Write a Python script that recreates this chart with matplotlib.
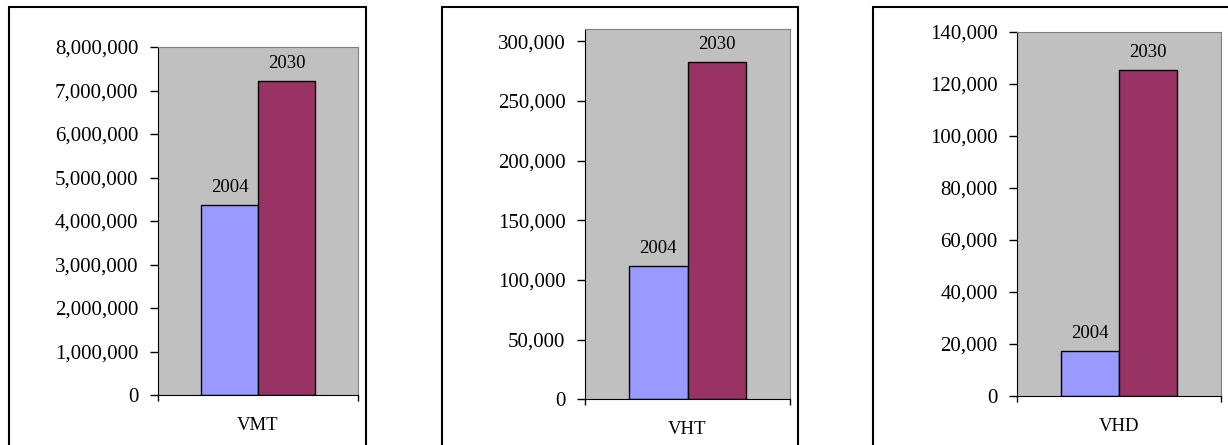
import matplotlib
matplotlib.use("Agg")
import matplotlib.pyplot as plt
from matplotlib.patches import Rectangle
from matplotlib.ticker import FuncFormatter

from matplotlib import rcParams
rcParams["font.family"] = "Liberation Serif"

# measures and their values for the two years
measures = ["VMT", "VHT", "VHD"]
years = ["2004", "2030"]
vals_2004 = [4370000, 112000, 17400]
vals_2030 = [7220000, 283000, 125500]
ytops = [8000000, 310000, 140000]
yticks = [
    list(range(0, 8000001, 1000000)),
    list(range(0, 300001, 50000)),
    list(range(0, 140001, 20000)),
]

colors = ["#9999FF", "#993366"]
W, H = 1228, 445

fig = plt.figure(figsize=(W / 100, H / 100), dpi=100)

# plot areas in pixels: left, right, top, bottom
boxes = [(158, 358, 47, 395), (585, 790, 29.3, 399.3), (1017, 1221, 32, 396)]
# outer chart frames in pixels: left, right
frames = [(9, 366), (442, 798), (873, 1240)]

for (fl, fr) in frames:
    fig.patches.append(Rectangle((fl / W, -0.1), (fr - fl) / W, 1.1 - 7 / H,
                                 transform=fig.transFigure, fill=False,
                                 edgecolor="black", lw=1.5, zorder=0))

bw = 1 / 3.5  # gap width 150%
fmt = FuncFormatter(lambda v, p: f"{int(v):,}")

for i, name in enumerate(measures):
    l, r, t, b = boxes[i]
    ax = fig.add_axes([l / W, 1 - b / H, (r - l) / W, (b - t) / H])
    ax.set_facecolor("#C0C0C0")
    vals = [vals_2004[i], vals_2030[i]]
    xs = [-bw / 2, bw / 2]
    ax.bar(xs, vals, width=bw, color=colors, edgecolor="black", linewidth=1)
    for x, v, yr in zip(xs, vals, years):
        ax.annotate(yr, (x, v), xytext=(0, 9), textcoords="offset points",
                    ha="center", va="baseline", fontsize=13.5)
    ax.set_xlim(-0.5, 0.5)
    ax.set_ylim(0, ytops[i])
    ax.set_yticks(yticks[i])
    ax.yaxis.set_major_formatter(fmt)
    ax.tick_params(axis="y", length=6, width=1, pad=8, labelsize=15, direction="out")
    ax.set_xticks([-0.5, 0.5])
    ax.set_xticklabels([])
    ax.tick_params(axis="x", length=4, width=1, direction="out")
    ax.annotate(name, (0, 0), xycoords=("data", "axes fraction"),
                xytext=(0, -22), textcoords="offset points",
                ha="center", va="center", fontsize=13.5)
    for s in ["top", "right"]:
        ax.spines[s].set_color("#808080")
    for s in ["left", "bottom"]:
        ax.spines[s].set_color("black")

plt.savefig("out.png", dpi=100)
